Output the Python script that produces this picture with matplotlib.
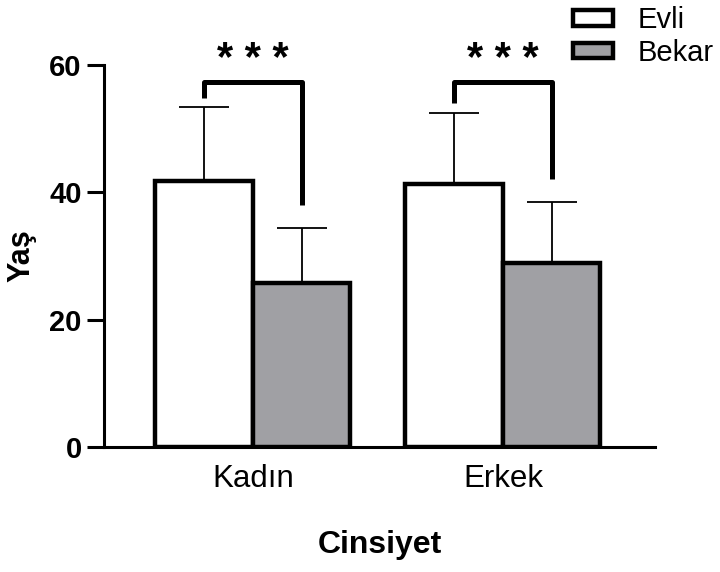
import matplotlib
matplotlib.use("Agg")
import matplotlib.pyplot as plt
import numpy as np

plt.rcParams["font.family"] = ["Liberation Sans", "DejaVu Sans"]

categories = ["Kadın", "Erkek"]
groups = ["Evli", "Bekar"]
evli_mean = [41.8, 41.3]
evli_sd = [11.5, 11.1]
bekar_mean = [25.8, 28.9]
bekar_sd = [8.6, 9.5]
significance = ["* * *", "* * *"]

colors = ["#ffffff", "#a0a0a4"]

fig = plt.figure(figsize=(7.2, 5.72), dpi=100)
ax = fig.add_axes([0.1444, 0.2185, 0.9097 - 0.1444, 0.8872 - 0.2185])

x = np.arange(len(categories))
w = 0.39
means = [evli_mean, bekar_mean]
sds = [evli_sd, bekar_sd]
offsets = [-w / 2, w / 2]

for k in range(2):
    pos = x + offsets[k]
    ax.bar(pos, means[k], width=w, color=colors[k], edgecolor="black",
           linewidth=3.2, label=groups[k], zorder=3)
    ax.errorbar(pos, means[k], yerr=[np.zeros(len(pos)), sds[k]], fmt="none",
                ecolor="black", elinewidth=1.3, capsize=18, capthick=1.3, zorder=2)

# significance brackets between the two groups of each category
tops = [m + s for m, s in zip(evli_mean + bekar_mean, evli_sd + bekar_sd)]
y_top = max(tops) + 4.0
for i in range(len(categories)):
    left_top = evli_mean[i] + evli_sd[i]
    right_top = bekar_mean[i] + bekar_sd[i]
    xl = x[i] - w / 2
    xr = x[i] + w / 2
    ax.plot([xl, xl, xr, xr], [left_top + 1.5, y_top, y_top, right_top + 3.6],
            color="black", linewidth=3.6, solid_joinstyle="round",
            solid_capstyle="butt", clip_on=False, zorder=4)
    ax.text(x[i], y_top + 3.4, significance[i], ha="center", va="center",
            fontsize=30, fontweight="bold", clip_on=False)

ax.set_xlim(-0.596, 1.608)
ax.set_ylim(0, 60)
ax.set_yticks([0, 20, 40, 60])
ax.set_xticks(x)
ax.set_xticklabels(categories)

for s in ["top", "right"]:
    ax.spines[s].set_visible(False)
for s in ["left", "bottom"]:
    ax.spines[s].set_linewidth(2.2)

ax.tick_params(axis="y", length=12, width=2.2, pad=4, labelsize=21)
for lab in ax.get_yticklabels():
    lab.set_fontweight("bold")
ax.tick_params(axis="x", length=0, pad=12, labelsize=22.5)

ax.set_ylabel("Yaş", fontsize=22, fontweight="bold", labelpad=9)
ax.set_xlabel("Cinsiyet", fontsize=23, fontweight="bold", labelpad=26)

leg = ax.legend(loc="upper left", bbox_to_anchor=(553 / 720, 1 + 14 / 572),
                bbox_transform=fig.transFigure, frameon=False, fontsize=21,
                handlelength=1.35, handleheight=0.42, handletextpad=0.85,
                labelspacing=0.15, borderpad=0.2)
for h in leg.legend_handles:
    h.set_linewidth(3.2)

fig.savefig("out.png", dpi=100)
